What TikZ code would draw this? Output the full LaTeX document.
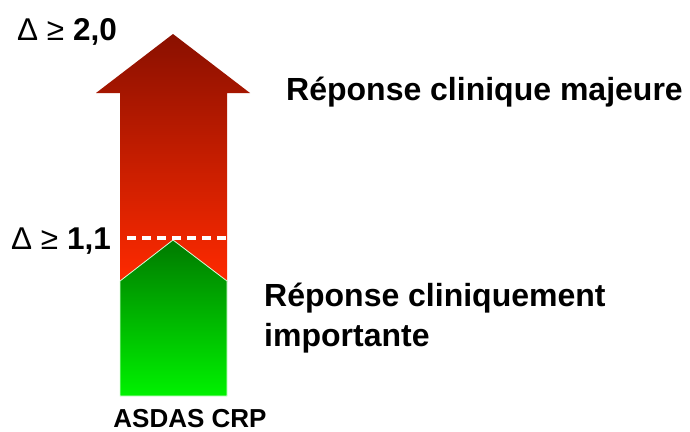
\documentclass[tikz,border=0pt]{standalone}
\usepackage{fontspec}
\setmainfont{Liberation Sans}
\definecolor{redtop}{HTML}{8A1000}
\definecolor{redmid}{HTML}{C41A00}
\definecolor{redbot}{HTML}{FF2A00}
\definecolor{greentop}{HTML}{007A00}
\definecolor{greenbot}{HTML}{00F200}
\tikzset{
  lbl/.style={inner sep=0pt, font=\bfseries\fontsize{32}{40}\selectfont, align=left},
  delta/.style={inner sep=0pt, anchor=base west, font=\fontsize{31.5}{36}\selectfont},
}
\begin{document}
\begin{tikzpicture}[x=1pt,y=-1pt]
\useasboundingbox[fill=white] (0,0) rectangle (690,431);
% red arrow
\shade[top color=redtop, middle color=redmid, bottom color=redbot]
  (120,282) -- (120,93) -- (96,93) -- (173,34) -- (250,93) -- (227,93) -- (227,282) -- cycle;
% green arrow
\shade[top color=greentop, bottom color=greenbot, draw=white!85!green, line width=0.8pt]
  (120,396) -- (120,281) -- (173,240) -- (227,281) -- (227,396) -- cycle;
% dashed threshold
\coordinate (dl) at (127,238);
\coordinate (dr) at (228,238);
\draw[white, line width=3.4pt, dash pattern=on 9pt off 6pt] (dl) -- (dr);
% labels
\node[delta] (d2) at (17,40) {Δ ≥ \textbf{2,0}};
\node[delta] (d1) at (11,249) {Δ ≥ \textbf{1,1}};
\node[lbl, anchor=base west] (maj) at (286,100) {Réponse clinique majeure};
\node[lbl, anchor=north west] (imp) at (264,283) {Réponse cliniquement\\importante};
\node[inner sep=0pt, anchor=base, font=\bfseries\fontsize{26}{30}\selectfont] (asdas) at (190,427) {ASDAS CRP};
\end{tikzpicture}
\end{document}
